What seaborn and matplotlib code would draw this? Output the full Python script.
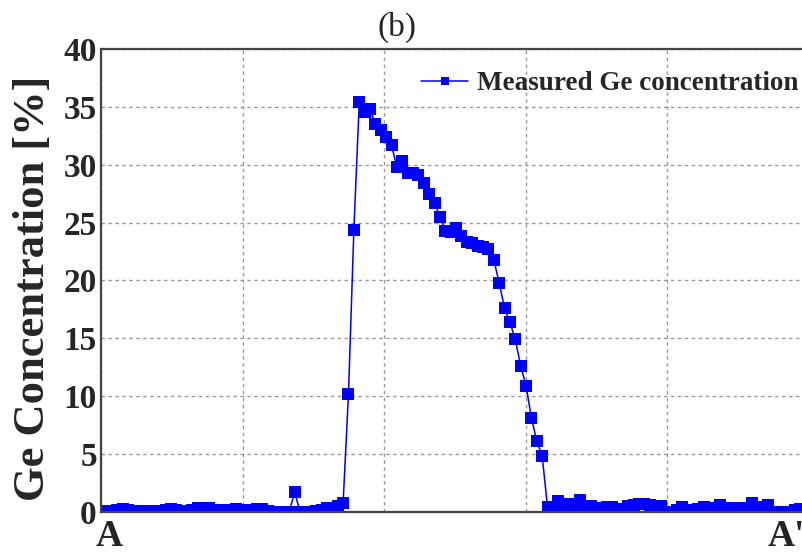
import numpy as np
import pandas as pd
import matplotlib
matplotlib.use("Agg")
import matplotlib.pyplot as plt
import seaborn as sns

# ---- data ----
baseline_left = [0.05, 0.05, 0.05, 0.10, 0.20, 0.10, 0.05, 0.05, 0.05, 0.08,
                 0.08, 0.08, 0.10, 0.20, 0.10, 0.05, 0.05, 0.15, 0.30, 0.30,
                 0.30, 0.05, 0.13, 0.13, 0.10, 0.20, 0.10, 0.05, 0.10, 0.20,
                 0.20, 0.05, 0.00, 0.00, 0.00, 0.00, 1.65, 0.00, 0.00, 0.00,
                 0.05, 0.13, 0.30, 0.30, 0.45, 0.75]
peak = [10.2, 24.4, 35.4, 34.6, 34.8, 33.5, 33.0, 32.4, 31.7, 29.8,
        30.3, 29.3, 29.3, 29.1, 28.4, 27.5, 26.7, 25.5, 24.3, 24.2,
        24.5, 23.8, 23.3, 23.2, 23.0, 22.9, 22.7, 21.8, 19.8, 17.6,
        16.4, 14.9, 12.6, 10.9, 8.1, 6.1, 4.8]
baseline_right = [0.35, 0.30, 0.88, 0.60, 0.68, 0.60, 0.97, 0.45, 0.48, 0.30,
                  0.30, 0.39, 0.39, 0.25, 0.05, 0.48, 0.60, 0.62, 0.62, 0.60,
                  0.48, 0.48, 0.00, 0.00, 0.10, 0.39, 0.10, 0.10, 0.20, 0.39,
                  0.25, 0.30, 0.54, 0.13, 0.30, 0.30, 0.30, 0.20, 0.77, 0.39,
                  0.30, 0.54, 0.00, 0.00, 0.00, 0.00, 0.10, 0.19, 0.20]
ge_values = baseline_left + peak + baseline_right
sample_index = list(range(len(ge_values)))
y_ticks = [0, 5, 10, 15, 20, 25, 30, 35, 40]
series_label = "Measured Ge concentration"
y_label = "Ge Concentration [%]"
title = "(b)"
end_labels = ["A", "A'"]

df = pd.DataFrame({"pos": sample_index, "ge": ge_values})

sns.set_style("white")
plt.rcParams["font.family"] = ["Liberation Serif", "DejaVu Serif"]

W, H = 802, 553
fig = plt.figure(figsize=(W / 100, H / 100), dpi=100)
ax = fig.add_axes([101 / W, 1 - 511.5 / H, (808.5 - 101) / W, (511.5 - 49.3) / H])

sns.lineplot(data=df, x="pos", y="ge", ax=ax, color="#0000FF", lw=1.1,
             marker="s", markersize=8, markeredgewidth=0,
             label=series_label, legend=False)

ax.set_xlim(0, 131.5)
ax.set_ylim(0, 40)
ax.set_xticks([0, 26.3, 52.6, 78.9, 105.2, 131.5])
ax.set_xticklabels([])
ax.set_yticks(y_ticks)
ax.set_yticklabels([str(t) for t in y_ticks], fontsize=24, fontweight="bold")
ax.tick_params(axis="both", length=0, pad=3)
ax.set_xlabel("")
ax.set_ylabel("")
ax.grid(True, color="#999999", linestyle=(0, (2.5, 2.5)), linewidth=1.0)
for side in ["top", "left", "bottom", "right"]:
    ax.spines[side].set_color("#444444")
    ax.spines[side].set_linewidth(1.6)

leg = ax.legend(loc="center left", bbox_to_anchor=(421 / W, 1 - 84 / H),
                bbox_transform=fig.transFigure, frameon=False,
                prop={"family": "Liberation Serif", "weight": "bold", "size": 19.5},
                handlelength=1.75, handletextpad=0.3, borderpad=0,
                borderaxespad=0, markerscale=0.75)

fig.text(397 / W, 1 - 27 / H, title, fontsize=24, ha="center", va="center")
fig.text(33 / W, 1 - 288 / H, y_label, fontsize=32, fontweight="bold",
         rotation=90, ha="center", va="center")
fig.text(109 / W, 1 - 536 / H, end_labels[0], fontsize=27, fontweight="bold",
         ha="center", va="center")
fig.text(768 / W, 1 - 536 / H, end_labels[1], fontsize=27, fontweight="bold",
         ha="left", va="center")

fig.savefig("out.png", dpi=100)
